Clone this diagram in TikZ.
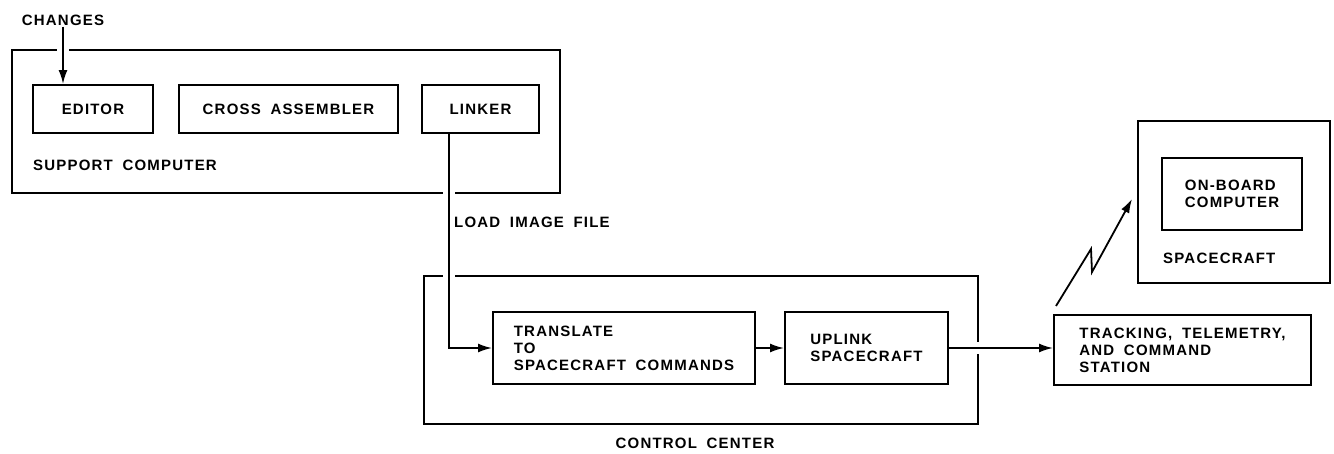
\documentclass[tikz,border=0pt]{standalone}
\usepackage{fontspec}
\newfontfamily\letreiro{Liberation Sans Bold}[LetterSpace=8,WordSpace=1.8]
\usetikzlibrary{arrows.meta,positioning}
\tikzset{
    bloco/.style={
        rectangle,
        draw,
        line width=2pt,
        align=left,
        minimum height=48pt
    },
    moldura/.style={
        rectangle,
        draw,
        line width=2pt,
        anchor=north west,
        inner sep=0pt
    },
    rotulo/.style={inner sep=1pt},
    fluxo/.style={-{Latex[length=14pt,width=9pt]}, line width=1.8pt},
    cruza/.style={preaction={draw=white, line width=12pt, -, shorten <=4pt, shorten >=16pt}}
}

\begin{document}
\begin{tikzpicture}[
        x=1pt, y=-1pt,
        every node/.style={font={\letreiro\fontsize{15pt}{17pt}\selectfont}}
    ]
        \useasboundingbox (0,0) rectangle (1334,453);

        % support computer
        \node[moldura, minimum width=548pt, minimum height=143pt] (suporte) at (11,49) {};
        \node[bloco, minimum width=120pt] (editor) at (93,109) {EDITOR};
        \node[bloco, minimum width=219pt, right=24pt of editor] (cruzado) {CROSS ASSEMBLER};
        \node[bloco, minimum width=117pt, right=22pt of cruzado] (linker) {LINKER};
        \node[rotulo] (changes) at (63,20) {CHANGES};
        \node[rotulo, anchor=west] (supnome) at (32,165) {SUPPORT COMPUTER};

        % control center
        \node[moldura, minimum width=554pt, minimum height=148pt] (controle) at (423,275) {};
        \node[bloco, minimum width=262pt, minimum height=72pt] (translate) at (624,348) {TRANSLATE\\TO\\SPACECRAFT COMMANDS};
        \node[bloco, minimum width=163pt, minimum height=72pt, right=28pt of translate] (uplink) {UPLINK\\SPACECRAFT};
        \node[bloco, minimum width=257pt, minimum height=70pt, right=104pt of uplink, yshift=-2pt] (tracking) {TRACKING, TELEMETRY,\\AND COMMAND\\STATION};

        % spacecraft
        \node[moldura, minimum width=192pt, minimum height=162pt] (nave) at (1137,120) {};
        \node[bloco, minimum width=140pt, minimum height=72pt] (bordo) at (1232,194) {ON-BOARD\\COMPUTER};
        \node[rotulo, anchor=west] (navenome) at (1162,258) {SPACECRAFT};

        \draw[fluxo, cruza] (changes.south) -- (changes.south |- editor.north);
        \draw[fluxo, cruza] ([xshift=28pt]linker.south west) |- (translate.west);
        \draw[fluxo] (translate) -- (uplink);
        \draw[fluxo, cruza] (uplink.east) -- (uplink.east -| tracking.west);
        \draw[fluxo] ([xshift=3pt, yshift=8pt]tracking.north west) -- ++(35,-57) -- ++(1,23) -- ([xshift=-5pt, yshift=3pt]nave.west);

        \node[rotulo, anchor=west] (carga) at (453,222) {LOAD IMAGE FILE};
        \node[rotulo] (ccnome) at (695,443) {CONTROL CENTER};
    \end{tikzpicture}
\end{document}
